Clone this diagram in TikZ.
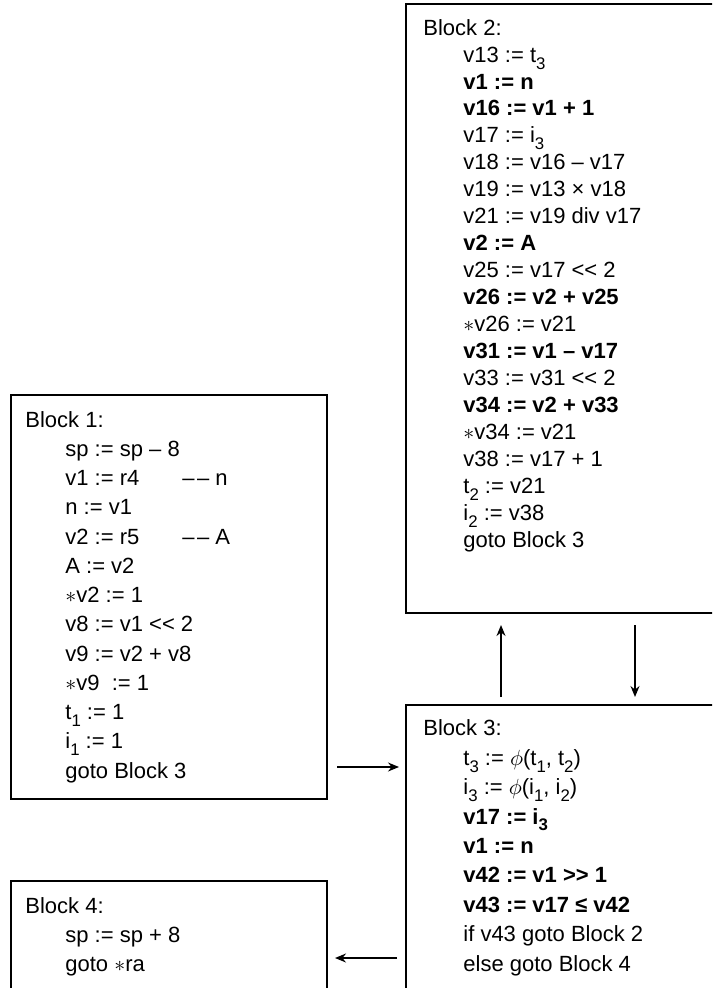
\documentclass[tikz,border=0pt]{standalone}
\usepackage{fontspec}
\setmainfont{Liberation Sans}
\usetikzlibrary{positioning}
\usetikzlibrary{arrows.meta}

\newcommand{\ind}{\hspace*{20pt}}
\newcommand{\sbs}[1]{\raisebox{-.6ex}{\fontsize{8.4}{8.4}\selectfont #1}}
\newcommand{\cmt}{–\kern1.2pt–}

\begin{document}
\begin{tikzpicture}[x=0.5pt,y=-0.5pt,
  blockbox/.style={draw, line width=1pt, anchor=north west, inner sep=0pt},
  code/.style={anchor=base west, align=left, inner sep=0pt},
  arr/.style={line width=0.7pt, -{Stealth[length=5.5pt,width=4.5pt]}}]

\useasboundingbox (0,0) rectangle (712,988);
\clip (0,0) rectangle (712,988);

%% the four blocks
\node [blockbox,minimum width=158pt,minimum height=202pt] at (10,394) (b1) {};
\node [blockbox,minimum width=170pt,minimum height=304.5pt] at (405,3) (b2) {};
\node [blockbox,minimum width=170pt,minimum height=170pt] at (405,704) (b3) {};
\node [blockbox,minimum width=158pt,minimum height=70pt] at (10,880) (b4) {};

%% block texts (placed at the baseline of their last line)
\node [code,font=\fontsize{11}{14.62}\selectfont] at (25,778) (t1) {Block 1:\\
\ind sp := sp – 8\\
\ind\makebox[58.5pt][l]{v1 := r4}\cmt\ n\\
\ind n := v1\\
\ind\makebox[58.5pt][l]{v2 := r5}\cmt\ A\\
\ind A := v2\\
\ind$\ast$v2 := 1\\
\ind v8 := v1 <{}< 2\\
\ind v9 := v2 + v8\\
\ind$\ast$v9\ \ := 1\\
\ind t\sbs{1} := 1\\
\ind i\sbs{1} := 1\\
\ind goto Block 3};
\node [code,font=\fontsize{11}{13.47}\selectfont] at (423,547) (t2) {Block 2:\\
\ind v13 := t\sbs{3}\\
\ind\textbf{v1 := n}\\
\ind\textbf{v16 := v1 + 1}\\
\ind v17 := i\sbs{3}\\
\ind v18 := v16 – v17\\
\ind v19 := v13 × v18\\
\ind v21 := v19 div v17\\
\ind\textbf{v2 := A}\\
\ind v25 := v17 <{}< 2\\
\ind\textbf{v26 := v2 + v25}\\
\ind$\ast$v26 := v21\\
\ind\textbf{v31 := v1 – v17}\\
\ind v33 := v31 <{}< 2\\
\ind\textbf{v34 := v2 + v33}\\
\ind$\ast$v34 := v21\\
\ind v38 := v17 + 1\\
\ind t\sbs{2} := v21\\
\ind i\sbs{2} := v38\\
\ind goto Block 3};
\node [code,font=\fontsize{11}{14.7}\selectfont] at (423,971) (t3) {Block 3:\\
\ind t\sbs{3} := $\phi$(t\sbs{1}, t\sbs{2})\\
\ind i\sbs{3} := $\phi$(i\sbs{1}, i\sbs{2})\\
\ind\textbf{v17 := i\sbs{3}}\\
\ind\textbf{v1 := n}\\
\ind\textbf{v42 := v1 >{}> 1}\\
\ind\textbf{v43 := v17 ≤ v42}\\
\ind if v43 goto Block 2\\
\ind else goto Block 4};
\node [code,font=\fontsize{11}{14.5}\selectfont] at (25,971) (t4) {Block 4:\\
\ind sp := sp + 8\\
\ind goto $\ast$ra};

%% edges
\coordinate (up) at ([xshift=48pt]b3.north west);
\coordinate (down) at ([xshift=115pt]b2.south west);
\draw [arr,shorten <=3.5pt,shorten >=5.5pt] (up) -- (up |- b2.south);
\draw [arr,shorten <=5.5pt,shorten >=3.5pt] (down) -- (down |- b3.north);
\coordinate (e13) at ([yshift=-186.5pt]b1.north east);
\draw [arr,shorten <=4.5pt,shorten >=3pt] (e13) -- (e13 -| b3.west);
\coordinate (e34) at ([yshift=-39pt]b4.north east);
\draw [arr,shorten <=4pt,shorten >=3.5pt] (e34 -| b3.west) -- (e34);
\end{tikzpicture}
\end{document}
